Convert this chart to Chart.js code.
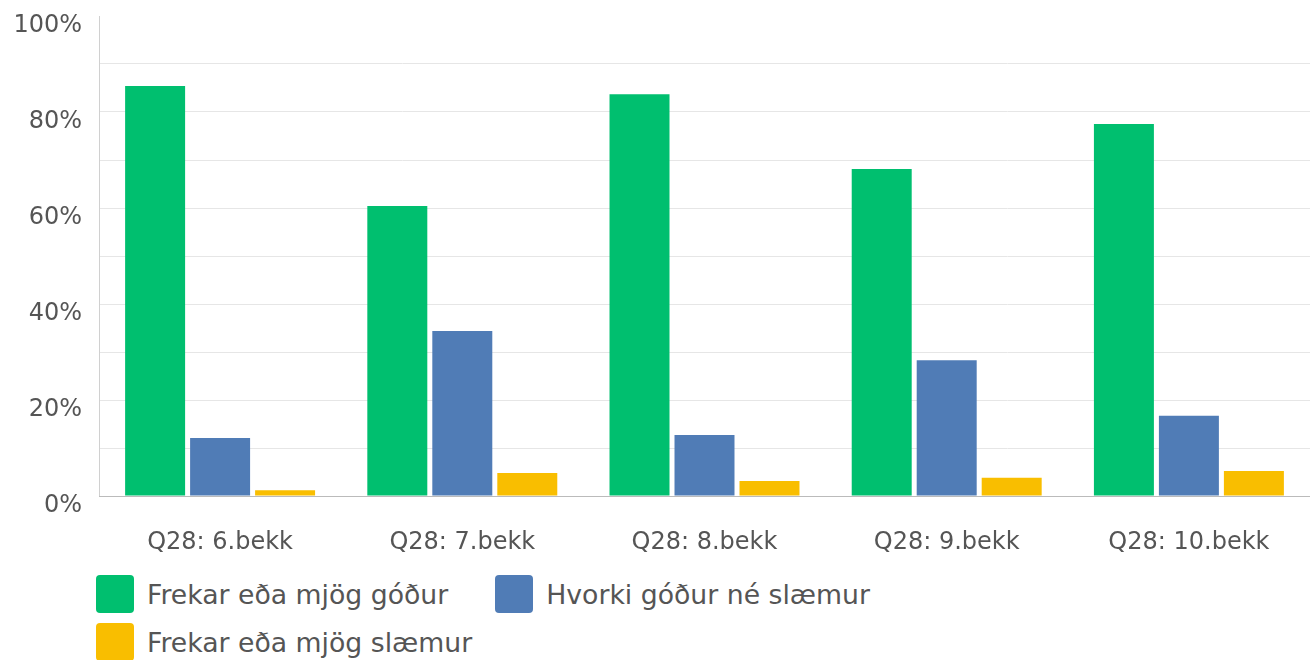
<!DOCTYPE html>
<html>
<head>
<meta charset="utf-8">
<script src="https://cdn.jsdelivr.net/npm/chart.js@4"></script>
<style>
  html, body { margin: 0; padding: 0; background: #fff; }
  body { width: 1310px; height: 660px; overflow: hidden; position: relative; }
  #legend {
    position: absolute; left: 96px; top: 575px; width: 860px;
    display: flex; flex-wrap: wrap; column-gap: 47px; row-gap: 10px;
    font-family: "DejaVu Sans", sans-serif; font-size: 26.7px; color: #555;
  }
  .item { display: flex; align-items: center; height: 38px; }
  .box { width: 38px; height: 38px; border-radius: 4px; margin-right: 13px; }
</style>
</head>
<body>
<canvas id="myChart" width="1310" height="575"></canvas>
<div id="legend"></div>
<script>
// Categories and series (percent of answers)
const categories = ["Q28: 6.bekk", "Q28: 7.bekk", "Q28: 8.bekk", "Q28: 9.bekk", "Q28: 10.bekk"];
const seriesNames = ["Frekar eða mjög góður", "Hvorki góður né slæmur", "Frekar eða mjög slæmur"];
const goodValues = [85.4, 60.4, 83.7, 68.1, 77.5];
const neutralValues = [12.1, 34.4, 12.7, 28.3, 16.7];
const badValues = [1.2, 4.8, 3.1, 3.8, 5.2];
const colors = ["#00BF6F", "#507CB6", "#F9BE00"];

const chart = new Chart("myChart", {
    type: "bar",
    data: {
        labels: categories,
        datasets: [goodValues, neutralValues, badValues].map((vals, i) => ({
            label: seriesNames[i],
            data: vals,
            backgroundColor: colors[i],
            categoryPercentage: 0.805,
            barPercentage: 0.923
        }))
    },
    options: {
        responsive: false,
        animation: false,
        layout: { padding: { top: 16, right: 0, left: 0, bottom: 0 } },
        scales: {
            y: {
                min: 0,
                max: 100,
                ticks: {
                    stepSize: 10,
                    padding: 17,
                    labelOffset: 10,
                    color: "#555",
                    font: { family: "DejaVu Sans", size: 24 },
                    callback: v => (v % 20 === 0 ? v + "%" : "")
                },
                grid: {
                    drawTicks: false,
                    color: ctx => (ctx.tick && ctx.tick.value === 100 ? "rgba(0,0,0,0)" : "#e6e6e6")
                },
                border: { color: "#d0d0d0" },
                afterFit: scale => {
                    scale.width = 99;
                    scale.paddingTop = 0;
                    scale.paddingBottom = 0;
                }
            },
            x: {
                ticks: {
                    padding: 32,
                    color: "#555",
                    font: { family: "DejaVu Sans", size: 24 }
                },
                grid: { display: false, drawTicks: false },
                border: { color: "#bbbbbb" },
                afterFit: scale => { scale.height = 79; }
            }
        },
        plugins: {
            legend: { display: false },
            tooltip: { enabled: false }
        }
    }
});

// HTML legend built from the chart's datasets
const legendEl = document.getElementById("legend");
chart.data.datasets.forEach(ds => {
    const item = document.createElement("div");
    item.className = "item";
    const box = document.createElement("span");
    box.className = "box";
    box.style.background = ds.backgroundColor;
    const text = document.createElement("span");
    text.textContent = ds.label;
    item.appendChild(box);
    item.appendChild(text);
    legendEl.appendChild(item);
});
</script>
</body>
</html>
